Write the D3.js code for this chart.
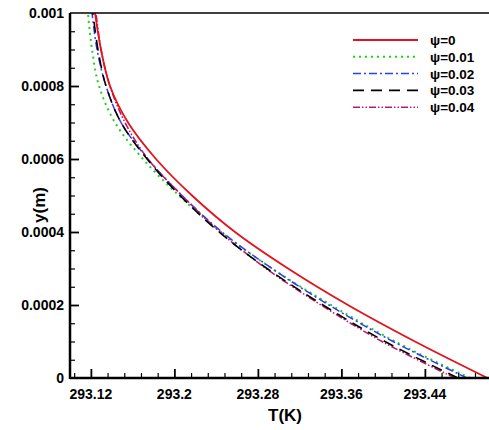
<!DOCTYPE html>
<html>
<head>
<meta charset="utf-8">
<script src="https://cdn.jsdelivr.net/npm/d3@7"></script>
<style>
  html, body { margin: 0; padding: 0; background: #fff; }
  svg { display: block; }
  text { font-family: "Liberation Sans", Arial, sans-serif; font-weight: bold; fill: #000; }
</style>
</head>
<body>
<svg id="chart" width="489" height="430"></svg>
<script>
// ---- data ----
const yValues = [0, 0.0001, 0.0002, 0.0003, 0.0004, 0.0005, 0.0006, 0.0007, 0.0008, 0.0009, 0.001];
const T_psi0    = [293.5000, 293.4305, 293.3663, 293.3089, 293.2581, 293.2169, 293.1824, 293.1556, 293.1383, 293.1297, 293.1240];
const T_psi001  = [293.4832, 293.4114, 293.3501, 293.2935, 293.2447, 293.2044, 293.1699, 293.1431, 293.1278, 293.1211, 293.1172];
const T_psi002  = [293.4804, 293.4095, 293.3481, 293.2935, 293.2456, 293.2073, 293.1747, 293.1489, 293.1345, 293.1259, 293.1211];
const T_psi003  = [293.4717, 293.4018, 293.3424, 293.2887, 293.2428, 293.2054, 293.1738, 293.1489, 293.1345, 293.1268, 293.1220];
const T_psi004  = [293.4689, 293.3989, 293.3405, 293.2878, 293.2437, 293.2073, 293.1747, 293.1527, 293.1383, 293.1297, 293.1249];
const seriesNames = ["ψ=0", "ψ=0.01", "ψ=0.02", "ψ=0.03", "ψ=0.04"];
const xTickValues = [293.12, 293.2, 293.28, 293.36, 293.44];
const xTickLabels = ["293.12", "293.2", "293.28", "293.36", "293.44"];
const yTickValues = [0, 0.0002, 0.0004, 0.0006, 0.0008, 0.001];
const yTickLabels = ["0", "0.0002", "0.0004", "0.0006", "0.0008", "0.001"];
const xTitle = "T(K)";
const yTitle = "y(m)";

// ---- styles ----
const styles = [
  { color: "#e3121b", dash: null,          width: 1.8 },
  { color: "#1fd11f", dash: "2,4",         width: 2.0 },
  { color: "#2f3cf5", dash: "8,3,2,3",     width: 1.5 },
  { color: "#000000", dash: "11,7",        width: 1.6 },
  { color: "#c2176a", dash: "7,2,1.5,2,1.5,2", width: 1.6 }
];
const allSeries = [T_psi0, T_psi001, T_psi002, T_psi003, T_psi004];

const svg = d3.select("#chart");
const pLeft = 70, pRight = 487.5, pTop = 13, pBottom = 378;

const x = d3.scaleLinear().domain([293.1, 293.5]).range([pLeft, pRight]);
const y = d3.scaleLinear().domain([0, 0.001]).range([pBottom, pTop]);

svg.append("defs").append("clipPath").attr("id", "clip")
  .append("rect").attr("x", pLeft).attr("y", pTop).attr("width", 489 - pLeft).attr("height", pBottom - pTop);

// curves
const line = d3.line()
  .x(d => x(d[0]))
  .y(d => y(d[1]))
  .curve(d3.curveCatmullRom.alpha(0.5));

const plot = svg.append("g").attr("clip-path", "url(#clip)");
[1, 2, 4, 3, 0].forEach(i => {
  const pts = allSeries[i].map((t, k) => [t, yValues[k]]);
  plot.append("path")
    .attr("d", line(pts))
    .attr("fill", "none")
    .attr("stroke", styles[i].color)
    .attr("stroke-width", styles[i].width)
    .attr("stroke-dasharray", styles[i].dash);
});

// axes (ticks inward)
const xMinor = d3.range(293.104, 293.5, 0.016).filter(v => !xTickValues.some(t => Math.abs(t - v) < 1e-6));
const yMinor = d3.range(0, 0.001, 0.00005).filter(v => !yTickValues.some(t => Math.abs(t - v) < 1e-9));

const xAxisG = svg.append("g").attr("transform", `translate(0,${pBottom})`)
  .call(d3.axisTop(x).tickValues(xMinor).tickSize(5).tickFormat(""));
xAxisG.select(".domain").remove();
const xMajG = svg.append("g").attr("transform", `translate(0,${pBottom})`)
  .call(d3.axisTop(x).tickValues(xTickValues).tickSize(9).tickFormat(""));
xMajG.select(".domain").remove();
xAxisG.selectAll("line").attr("stroke-width", 1.2);
xMajG.selectAll("line").attr("stroke-width", 1.8);

const yAxisG = svg.append("g").attr("transform", `translate(${pLeft},0)`)
  .call(d3.axisRight(y).tickValues(yMinor).tickSize(5).tickFormat(""));
yAxisG.select(".domain").remove();
const yMajG = svg.append("g").attr("transform", `translate(${pLeft},0)`)
  .call(d3.axisRight(y).tickValues(yTickValues.filter(v => v > 0 && v < 0.001)).tickSize(9).tickFormat(""));
yMajG.select(".domain").remove();
yAxisG.selectAll("line").attr("stroke-width", 1.2);
yMajG.selectAll("line").attr("stroke-width", 1.8);

// tick labels
svg.append("g").selectAll("text").data(xTickValues).join("text")
  .attr("x", d => x(d)).attr("y", pBottom + 21)
  .attr("text-anchor", "middle").attr("font-size", 14)
  .text((d, i) => xTickLabels[i]);
svg.append("g").selectAll("text").data(yTickValues).join("text")
  .attr("x", pLeft - 6).attr("y", d => y(d) + 5)
  .attr("text-anchor", "end").attr("font-size", 14)
  .text((d, i) => yTickLabels[i]);

// frame
svg.append("line").attr("x1", pLeft).attr("x2", 489).attr("y1", pTop).attr("y2", pTop).attr("stroke", "#000").attr("stroke-width", 1.5);
svg.append("line").attr("x1", pLeft).attr("x2", 489).attr("y1", pBottom).attr("y2", pBottom).attr("stroke", "#000").attr("stroke-width", 2.5);
svg.append("line").attr("x1", pLeft).attr("x2", pLeft).attr("y1", pTop).attr("y2", pBottom + 1).attr("stroke", "#000").attr("stroke-width", 2.5);

// axis titles
svg.append("text").attr("x", 285).attr("y", 421).attr("text-anchor", "middle").attr("font-size", 17).text(xTitle);
svg.append("text").attr("transform", `translate(45,205) rotate(-90)`).attr("text-anchor", "middle").attr("font-size", 17).text(yTitle);

// legend
const legend = svg.append("g");
seriesNames.forEach((name, i) => {
  const cy = 40 + i * 16.8;
  legend.append("line").attr("x1", 353).attr("x2", 418).attr("y1", cy).attr("y2", cy)
    .attr("stroke", styles[i].color).attr("stroke-width", styles[i].width)
    .attr("stroke-dasharray", styles[i].dash);
  legend.append("text").attr("x", 430).attr("y", cy + 5).attr("font-size", 13.5).text(name);
});
</script>
</body>
</html>
